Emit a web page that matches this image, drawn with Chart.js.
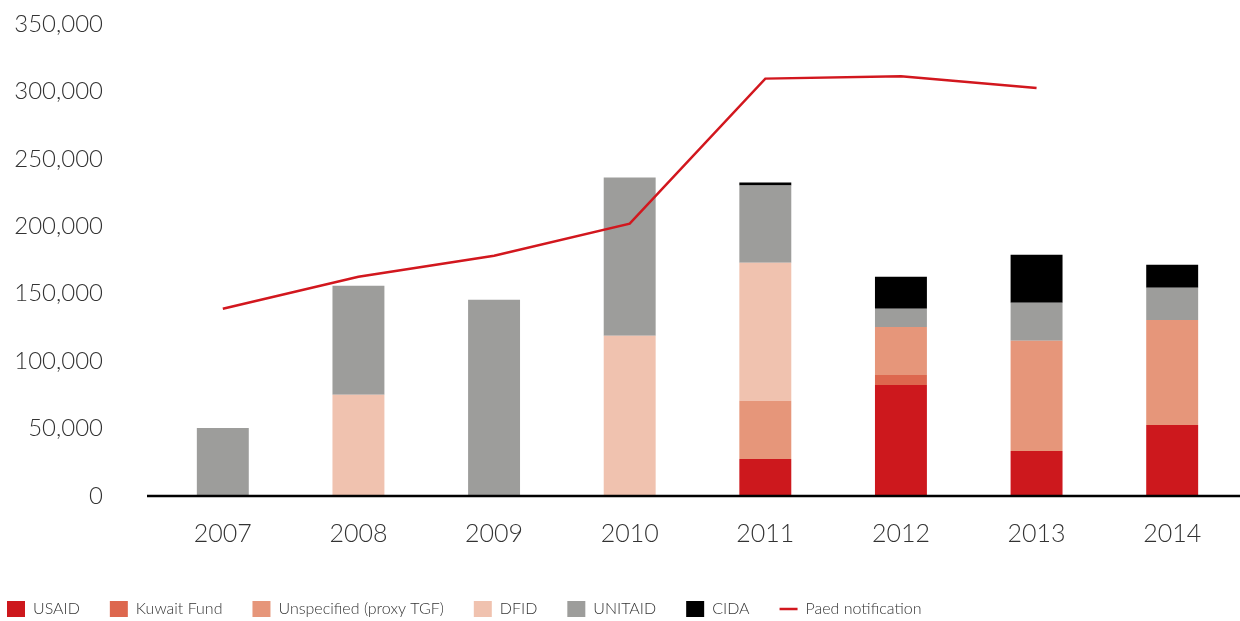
<!DOCTYPE html>
<html>
<head>
<meta charset="utf-8">
<script src="https://cdn.jsdelivr.net/npm/chart.js@4/dist/chart.umd.min.js"></script>
<style>
  html, body { margin: 0; padding: 0; background: #fff; }
  #wrap { width: 1240px; height: 621px; position: relative; }
</style>
</head>
<body>
<div id="wrap"><canvas id="myChart"></canvas></div>
<script>
// Years on the x axis
const years = ["2007", "2008", "2009", "2010", "2011", "2012", "2013", "2014"];

// Donor contributions (stacked bars)
const usaid       = [0, 0, 0, 0, 27500, 82400, 33400, 52700];
const kuwaitFund  = [0, 0, 0, 0, 0, 7400, 0, 0];
const unspecified = [0, 0, 0, 0, 43100, 35600, 81700, 77900];
const dfid        = [0, 75000, 0, 118800, 102400, 0, 0, 0];
const unitaid     = [50500, 80900, 145500, 117300, 57200, 13400, 28200, 23800];
const cida        = [0, 0, 0, 0, 2200, 23800, 35600, 17100];

// Paediatric notification line
const paedNotification = [138800, 162600, 178200, 201900, 309500, 311300, 302600, null];

// Y axis ticks
const yMax = 350000;
const yStep = 50000;

const fontFamily = "Lato, 'Open Sans', sans-serif";
const textColor = "#333333";

//Draw the black baseline that sticks out a bit left of the plot.
const baseline = {
  id: "baseline",
  afterDatasetsDraw(chart) {
    let ctx = chart.ctx;
    let y = chart.scales.y.getPixelForValue(0);
    ctx.save();
    ctx.strokeStyle = "#000";
    ctx.lineWidth = 2.5;
    ctx.beginPath();
    ctx.moveTo(chart.chartArea.left - 8, y);
    ctx.lineTo(chart.chartArea.right, y);
    ctx.stroke();
    ctx.restore();
  }
};

function barSet(label, data, color) {
  return {
    type: "bar",
    label,
    data,
    backgroundColor: color,
    borderWidth: 0,
    stack: "donors",
    pointStyle: "rect",
    order: 1
  };
}

let ctx = document.getElementById("myChart").getContext("2d");

let myChart = new Chart(ctx, {
  data: {
    labels: years,
    datasets: [
      barSet("USAID", usaid, "#CD181D"),
      barSet("Kuwait Fund", kuwaitFund, "#DD674E"),
      barSet("Unspecified (proxy TGF)", unspecified, "#E6967A"),
      barSet("DFID", dfid, "#F0C2AF"),
      barSet("UNITAID", unitaid, "#9D9D9B"),
      barSet("CIDA", cida, "#000000"),
      {
        type: "line",
        label: "Paed notification",
        data: paedNotification,
        borderColor: "#D2171E",
        backgroundColor: "#D2171E",
        borderWidth: 2.5,
        pointRadius: 0,
        pointStyle: "line",
        tension: 0,
        spanGaps: false,
        stack: "line",
        order: 0
      }
    ]
  },
  options: {
    responsive: true,
    maintainAspectRatio: false,
    animation: false,
    layout: {
      padding: { top: 24, right: 0, bottom: -6, left: -23 }
    },
    datasets: {
      bar: { barPercentage: 1, categoryPercentage: 0.383 }
    },
    plugins: {
      tooltip: { enabled: false },
      legend: {
        position: "bottom",
        align: "start",
        labels: {
          usePointStyle: true,
          pointStyleWidth: 18,
          boxHeight: 18,
          padding: 30,
          color: textColor,
          font: { family: fontFamily, size: 16, weight: "300" },
          sort: (a, b) => a.datasetIndex - b.datasetIndex
        }
      }
    },
    scales: {
      x: {
        stacked: true,
        grid: { display: false, drawTicks: false },
        border: { display: false },
        ticks: {
          color: textColor,
          padding: 23,
          font: { family: fontFamily, size: 25, weight: "300" }
        },
        afterFit: scale => { scale.height = 75; }
      },
      y: {
        stacked: true,
        min: 0,
        max: yMax,
        grid: { display: false, drawTicks: false },
        border: { display: false },
        ticks: {
          stepSize: yStep,
          color: textColor,
          padding: 52,
          font: { family: fontFamily, size: 24, weight: "300" },
          callback: value => value.toLocaleString("en-US")
        },
        afterFit: scale => {
          //The tick padding is only meant to push labels left, not down from the top.
          scale.width = 178;
          scale.paddingTop = 0;
          scale.paddingBottom = 0;
        }
      }
    }
  },
  plugins: [baseline]
});
</script>
</body>
</html>
